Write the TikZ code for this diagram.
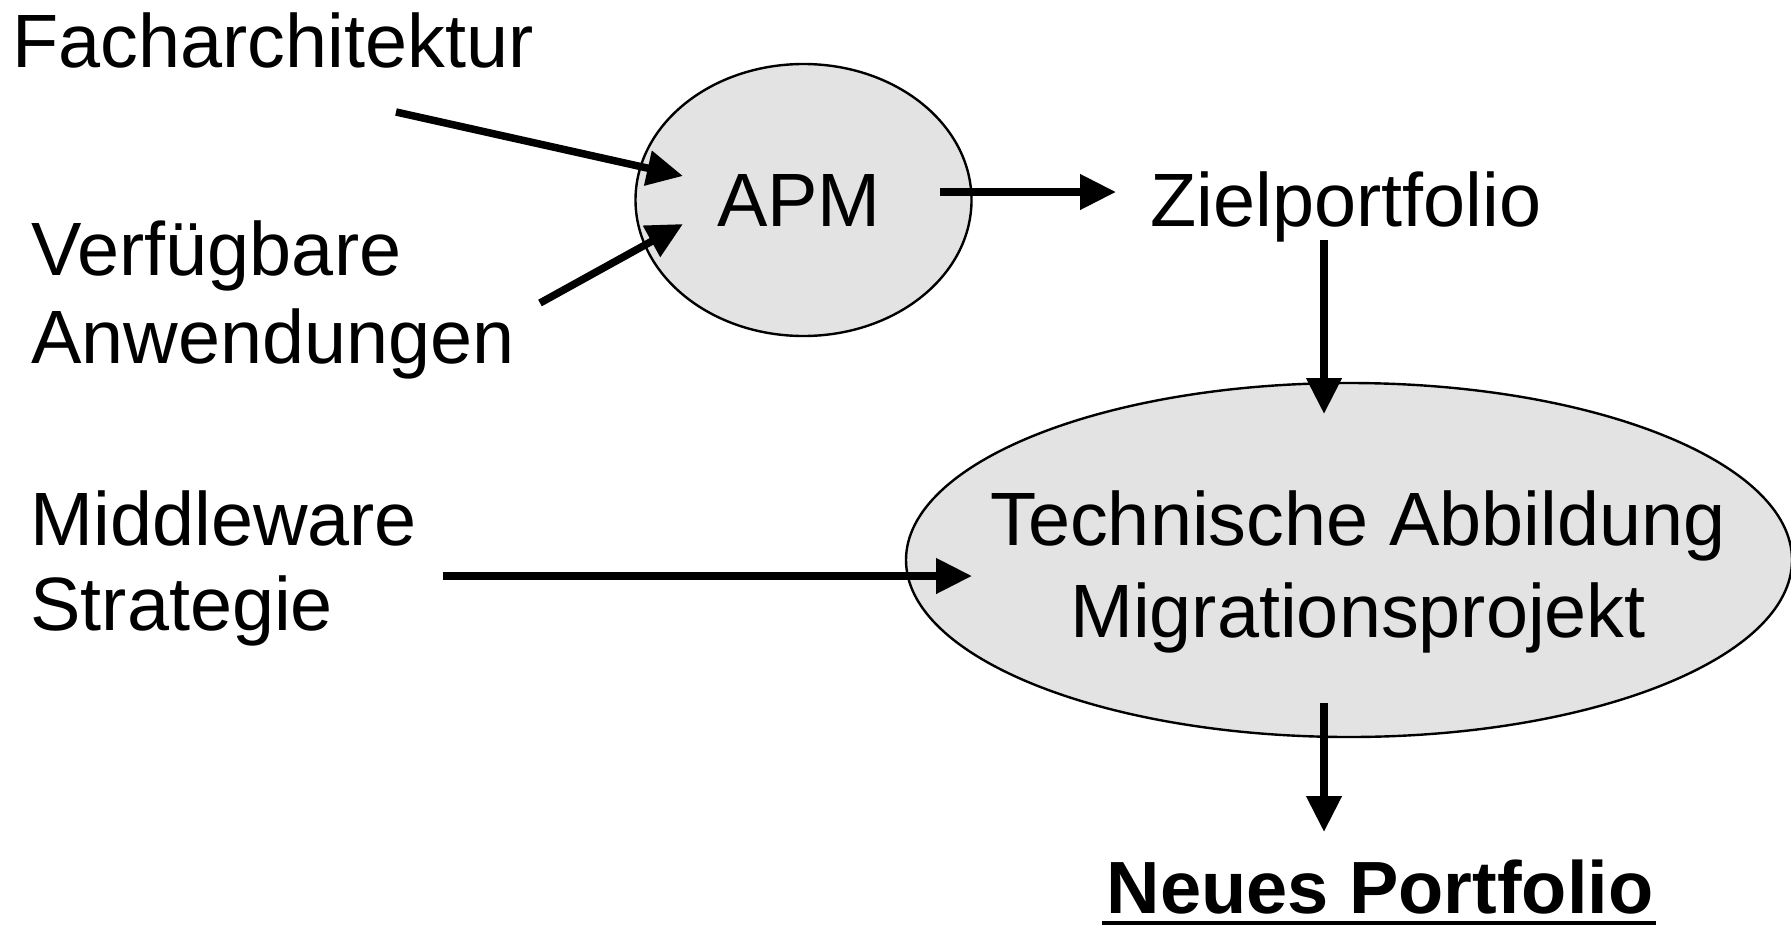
\documentclass[tikz,border=0pt]{standalone}
\usepackage{fontspec}
\setmainfont{Liberation Sans}
\usetikzlibrary{arrows.meta,shapes.geometric}
\definecolor{ovalfill}{RGB}{227,227,227}
\begin{document}
\begin{tikzpicture}[x=0.5pt,y=-0.5pt,
  lbl/.style={inner sep=0pt, font=\fontsize{37.8}{44}\selectfont},
  oval/.style={ellipse, draw=black, line width=1.2pt, fill=ovalfill, inner sep=0pt},
  flow/.style={line width=3.75pt, -{Triangle[length=18pt,width=17pt]}}]
\useasboundingbox (0,0) rectangle (1791,926);

% process ovals
\node[oval, minimum width=168pt, minimum height=136pt] (apm) at (803.5,200) {};
\node[lbl, anchor=base] (apmtext) at (799,226) {APM};
\node[oval, minimum width=443pt, minimum height=177pt] (tech) at (1349,560) {};
\node[lbl, anchor=base, font=\fontsize{37.8}{46}\selectfont] (techtext) at (1358,545)
  {\begin{tabular}[t]{@{}c@{}}Technische Abbildung\\Migrationsprojekt\end{tabular}};

% inputs and results
\node[lbl, anchor=base west] (fach) at (12,67) {Facharchitektur};
\node[lbl, anchor=base west] (verf) at (31,275)
  {\begin{tabular}[t]{@{}l@{}}Verfügbare\\Anwendungen\end{tabular}};
\node[lbl, anchor=base west, font=\fontsize{37.8}{42.5}\selectfont] (mw) at (30,545)
  {\begin{tabular}[t]{@{}l@{}}Middleware\\Strategie\end{tabular}};
\node[lbl, anchor=base west] (ziel) at (1150,226) {Zielportfolio};
\node[lbl, anchor=base, font=\fontsize{37}{44}\selectfont\bfseries] (neu) at (1380,913)
  {Neues Portfolio};
\draw[line width=2pt] ([xshift=-2pt,yshift=-5pt]neu.base west)
  -- ([xshift=1pt,yshift=-5pt]neu.base east);

% connector end points
\coordinate (fach-out) at (396,112);
\coordinate (apm-in1)  at (683,176);
\coordinate (verf-out) at (540,303);
\coordinate (apm-in2)  at (683,224);
\coordinate (apm-out)  at (940,192);
\coordinate (ziel-in)  at (1116,192);
\coordinate (ziel-out) at (1324,240);
\coordinate (tech-in1) at (1324,414);
\coordinate (mw-out)   at (443,576);
\coordinate (tech-in2) at (972,576);
\coordinate (tech-out) at (1324,703);
\coordinate (neu-in)   at (1324,832);

% connectors
\draw[flow] (fach-out) -- (apm-in1);
\draw[flow] (verf-out) -- (apm-in2);
\draw[flow] (apm-out) -- (ziel-in);
\draw[flow] (ziel-out) -- (tech-in1);
\draw[flow] (mw-out) -- (tech-in2);
\draw[flow] (tech-out) -- (neu-in);
\end{tikzpicture}
\end{document}
